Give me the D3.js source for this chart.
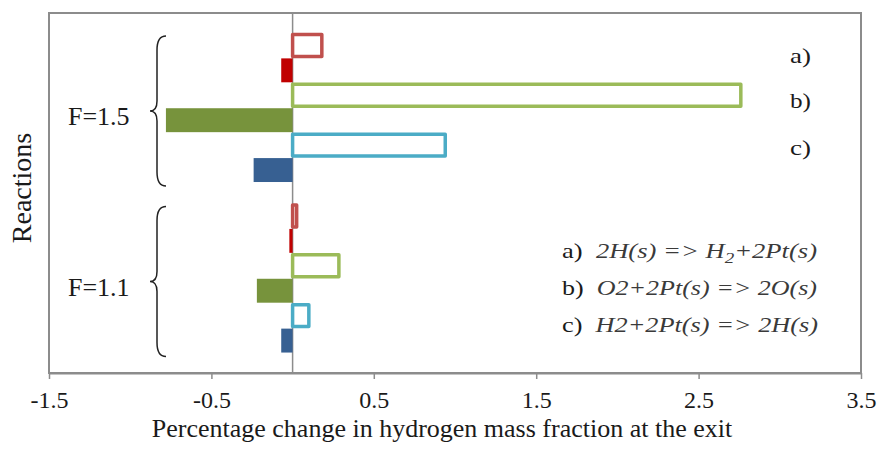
<!DOCTYPE html>
<html>
<head>
<meta charset="utf-8">
<script src="https://cdn.jsdelivr.net/npm/d3@7"></script>
<style>
  body { margin: 0; background: #fff; }
  text { font-family: "Liberation Serif", "Times New Roman", serif; }
</style>
</head>
<body>
<div id="vis"></div>
<script>
// data
const groups = ["F=1.5", "F=1.1"];
const reactions = ["a", "b", "c"];
const hollowF15 = [0.18, 2.76, 0.94];
const filledF15 = [-0.07, -0.78, -0.24];
const hollowF11 = [0.025, 0.285, 0.10];
const filledF11 = [-0.02, -0.22, -0.07];
const xTicks = [-1.5, -0.5, 0.5, 1.5, 2.5, 3.5];
const hollowColors = ["#C0504D", "#9BBB59", "#4BACC6"];
const filledColors = ["#C00000", "#77933C", "#376092"];
const legendLines = [
  ["a)", "2H(s) => H", "2", "+2Pt(s)"],
  ["b)", "O2+2Pt(s) => 2O(s)"],
  ["c)", "H2+2Pt(s) => 2H(s)"]
];

const W = 880, H = 449;
const plot = { left: 49, right: 861, top: 13, bottom: 373 };

const svg = d3.select("#vis")
  .append("svg")
  .attr("width", W)
  .attr("height", H);

const x = d3.scaleLinear()
  .domain([-1.5, 3.5])
  .range([plot.left, plot.right]);

const yGroup = d3.scaleBand()
  .domain(groups)
  .range([plot.top, plot.bottom])
  .paddingInner(0.123)
  .paddingOuter(0.117);

const rows = [];
reactions.forEach(r => { rows.push(r + "-hollow"); rows.push(r + "-filled"); });
const yRow = d3.scaleBand()
  .domain(rows)
  .range([0, yGroup.bandwidth()]);

const bars = [];
groups.forEach((g, gi) => {
  const hv = gi === 0 ? hollowF15 : hollowF11;
  const fv = gi === 0 ? filledF15 : filledF11;
  reactions.forEach((r, i) => {
    bars.push({ group: g, row: r + "-hollow", value: hv[i], hollow: true, color: hollowColors[i] });
    bars.push({ group: g, row: r + "-filled", value: fv[i], hollow: false, color: filledColors[i] });
  });
});

// plot border
svg.append("rect")
  .attr("x", plot.left)
  .attr("y", plot.top)
  .attr("width", plot.right - plot.left)
  .attr("height", plot.bottom - plot.top)
  .attr("fill", "none")
  .attr("stroke", "#8c8c8c")
  .attr("stroke-width", 2);

// zero line
svg.append("line")
  .attr("x1", x(0)).attr("x2", x(0))
  .attr("y1", plot.top).attr("y2", plot.bottom)
  .attr("stroke", "#8c8c8c")
  .attr("stroke-width", 1.5);

const bw = yRow.bandwidth();

svg.selectAll("rect.filled")
  .data(bars.filter(d => !d.hollow))
  .join("rect")
  .attr("class", "filled")
  .attr("x", d => x(Math.min(0, d.value)))
  .attr("width", d => Math.abs(x(d.value) - x(0)))
  .attr("y", d => yGroup(d.group) + yRow(d.row) + 0.5)
  .attr("height", bw - 1)
  .attr("fill", d => d.color);

svg.selectAll("rect.hollow")
  .data(bars.filter(d => d.hollow))
  .join("rect")
  .attr("class", "hollow")
  .attr("x", d => x(Math.min(0, d.value)))
  .attr("width", d => Math.abs(x(d.value) - x(0)))
  .attr("y", d => yGroup(d.group) + yRow(d.row) + 1.5)
  .attr("height", bw - 3)
  .attr("fill", "#fff")
  .attr("stroke", d => d.color)
  .attr("stroke-width", 3.5)
  .attr("stroke-linejoin", "round");

// x axis
const xAxis = svg.append("g")
  .attr("transform", `translate(0, ${plot.bottom})`)
  .call(d3.axisBottom(x)
    .tickValues(xTicks)
    .tickSize(6)
    .tickSizeOuter(0)
    .tickPadding(12)
    .tickFormat(d => d.toFixed(1)));

xAxis.select(".domain").attr("stroke", "#8c8c8c").attr("stroke-width", 2);
xAxis.selectAll(".tick line").attr("stroke", "#8c8c8c").attr("stroke-width", 1.5);
xAxis.selectAll(".tick text")
  .attr("font-family", "Liberation Serif")
  .attr("font-size", "24px")
  .attr("fill", "#1a1a1a");

svg.append("text")
  .attr("x", 442)
  .attr("y", 437)
  .attr("text-anchor", "middle")
  .attr("font-size", "26px")
  .attr("fill", "#1a1a1a")
  .text("Percentage change in hydrogen mass fraction at the exit");

svg.append("text")
  .attr("transform", "translate(31, 188) rotate(-90)")
  .attr("text-anchor", "middle")
  .attr("font-size", "28px")
  .attr("fill", "#1a1a1a")
  .text("Reactions");

// braces + group labels
groups.forEach(g => {
  const y0 = yGroup(g) + 3;
  const y1 = yGroup(g) + yGroup.bandwidth() + 3.5;
  const mid = (y0 + y1) / 2;
  const xs = 157, xe = 166, xt = 150;
  svg.append("path")
    .attr("d", `M${xe},${y0} Q${xs},${y0} ${xs},${y0 + 14} L${xs},${mid - 10} Q${xs},${mid} ${xt},${mid}` +
      ` Q${xs},${mid} ${xs},${mid + 10} L${xs},${y1 - 14} Q${xs},${y1} ${xe},${y1}`)
    .attr("fill", "none")
    .attr("stroke", "#222")
    .attr("stroke-width", 1.5);

  svg.append("text")
    .attr("x", 68)
    .attr("y", mid + 14)
    .attr("font-size", "26px")
    .attr("fill", "#1a1a1a")
    .text(g);
});

// a) b) c) markers beside the F=1.5 bars
const markerY = [63, 108, 154.5];
reactions.forEach((r, i) => {
  svg.append("text")
    .attr("x", 790)
    .attr("y", markerY[i])
    .attr("font-size", "22px")
    .attr("textLength", 21)
    .attr("lengthAdjust", "spacingAndGlyphs")
    .attr("fill", "#1a1a1a")
    .text(r + ")");
});

// reaction key
const legendY = [258, 295, 331.5];
const legendWidth = [255, 255, 256];
legendLines.forEach((parts, i) => {
  const t = svg.append("text")
    .attr("x", 562)
    .attr("y", legendY[i])
    .attr("font-size", "21px")
    .attr("fill", "#1a1a1a")
    .attr("textLength", legendWidth[i])
    .attr("lengthAdjust", "spacingAndGlyphs")
    .attr("xml:space", "preserve");
  t.append("tspan").text(parts[0] + "  ");
  if (parts.length > 2) {
    t.append("tspan").attr("font-style", "italic").attr("fill", "#3a3a3a").text(parts[1]);
    t.append("tspan").attr("font-style", "italic").attr("fill", "#3a3a3a")
      .attr("dy", 5).attr("font-size", "15px").text(parts[2]);
    t.append("tspan").attr("font-style", "italic").attr("fill", "#3a3a3a")
      .attr("dy", -5).text(parts[3]);
  } else {
    t.append("tspan").attr("font-style", "italic").attr("fill", "#3a3a3a").text(parts[1]);
  }
});
</script>
</body>
</html>
